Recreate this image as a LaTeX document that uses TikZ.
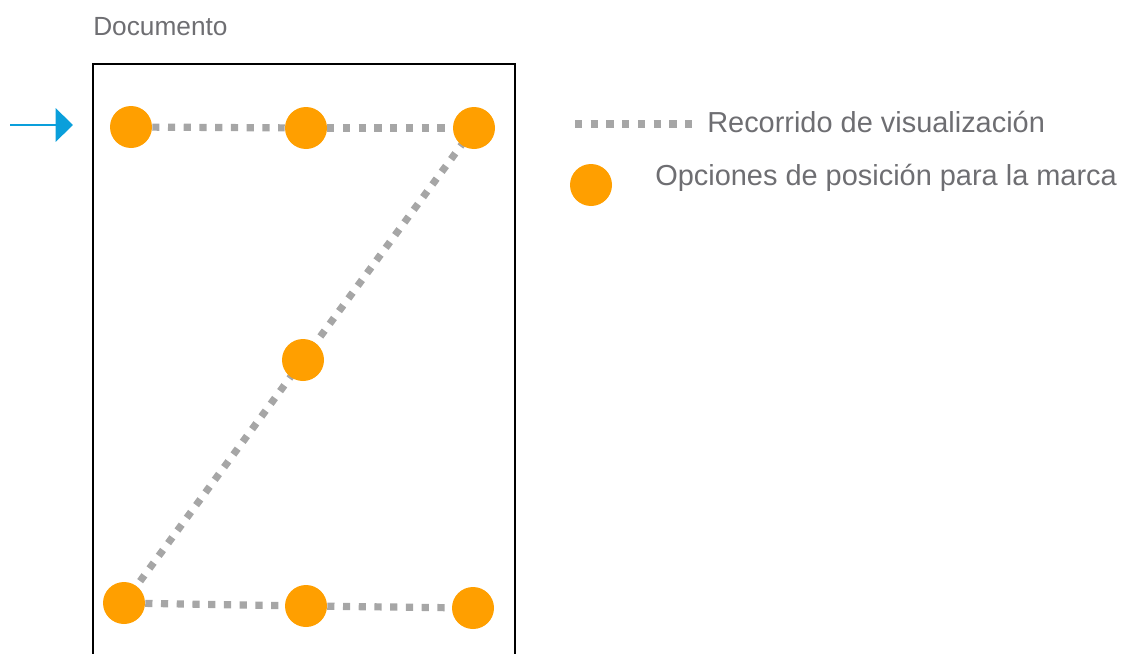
\documentclass[tikz,border=0pt]{standalone}
\usepackage{fontspec}
\setmainfont{Liberation Sans}
\usetikzlibrary{arrows.meta,backgrounds}
\definecolor{markorange}{HTML}{FF9F00}
\definecolor{pathgray}{HTML}{A6A6A6}
\definecolor{txtgray}{HTML}{6E6E72}
\definecolor{arrowblue}{HTML}{0A9FDB}
\begin{document}
\begin{tikzpicture}[x=0.75pt,y=-0.75pt,
  markdot/.style={circle,fill=markorange,draw=none,minimum size=31.5pt,inner sep=0pt},
  viewpath/.style={draw=pathgray,line width=5.4pt,dash pattern=on 5.4pt off 6.4pt},
  lbl/.style={text=txtgray,inner sep=0pt,anchor=west}]
\useasboundingbox (0,0) rectangle (1124,653);
\begin{scope}
\clip (0,0) rectangle (1124,653);
\draw[line width=1.6pt] (93,64) rectangle (515,680);
\end{scope}
\node[lbl,anchor=base west,font=\fontsize{19.7}{23}\selectfont] (doc) at (93,36) {Documento};
% marks
\node[markdot] (t1) at (131,127) {};
\node[markdot] (t2) at (306,128) {};
\node[markdot] (t3) at (474,128) {};
\node[markdot] (m) at (303,360) {};
\node[markdot] (b1) at (124,603) {};
\node[markdot] (b2) at (306,606) {};
\node[markdot] (b3) at (473,608) {};
% paths
\begin{scope}[on background layer]
\path[viewpath] (t1) -- (t2);
\path[viewpath] (t2) -- (t3);
\path[viewpath] (t3.center) -- (m.center);
\path[viewpath] (m.center) -- (b1.center);
\path[viewpath] (b1) -- (b2);
\path[viewpath] (b2) -- (b3);
\end{scope}
% start arrow
\coordinate (a0) at (10,125);
\coordinate (a1) at (73,125);
\draw[arrowblue,line width=1.6pt,-{Triangle[length=13pt,width=25pt]}] (a0) -- (a1);
% legend
\coordinate (l1) at (575,124);
\coordinate (l2) at (692,124);
\path[viewpath] (l1) -- (l2);
\node[lbl,font=\fontsize{21.7}{26}\selectfont] (lt1) at (707,122) {Recorrido de visualización};
\node[markdot] (lm) at (591,185) {};
\node[lbl,font=\fontsize{21.7}{26}\selectfont] (lt2) at (655,178) {Opciones de posición para la marca};
\end{tikzpicture}
\end{document}
